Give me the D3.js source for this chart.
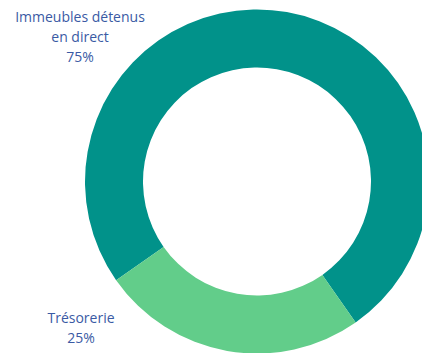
<!DOCTYPE html>
<html>
<head>
<meta charset="utf-8">
<script src="https://cdn.jsdelivr.net/npm/d3@7"></script>
<style>
  body { margin: 0; background: #fff; }
  text { font-family: "Open Sans", sans-serif; }
</style>
</head>
<body>
<div id="chart"></div>
<script>
const labels = [["Immeubles détenus", "en direct"], ["Trésorerie"]];
const values = [75, 25];
const colors = ["#01928A", "#62CD8A"];

const width = 422;
const height = 353;
const cx = 257;
const cy = 181.5;
const outerR = 172;
const innerR = 114;
const start = (-125 * Math.PI) / 180;

const svg = d3
  .select("#chart")
  .append("svg")
  .attr("width", width)
  .attr("height", height);

const pie = d3
  .pie()
  .sort(null)
  .startAngle(start)
  .endAngle(start + 2 * Math.PI);

const arc = d3.arc().innerRadius(innerR).outerRadius(outerR);

svg
  .append("g")
  .attr("transform", `translate(${cx}, ${cy})`)
  .selectAll("path")
  .data(pie(values))
  .join("path")
  .attr("d", arc)
  .attr("fill", (d, i) => colors[i]);

// labels sit outside the donut on the left
const labelPos = [
  { x: 80, y: 22 },
  { x: 81, y: 323 },
];

labels.forEach((lines, i) => {
  const t = svg
    .append("text")
    .attr("x", labelPos[i].x)
    .attr("y", labelPos[i].y)
    .attr("text-anchor", "middle")
    .attr("fill", "#3A5AA4")
    .attr("font-size", 14);
  lines.concat([values[i] + "%"]).forEach((s, j) => {
    t.append("tspan")
      .attr("x", labelPos[i].x)
      .attr("dy", j === 0 ? 0 : 20)
      .text(s);
  });
});
</script>
</body>
</html>
